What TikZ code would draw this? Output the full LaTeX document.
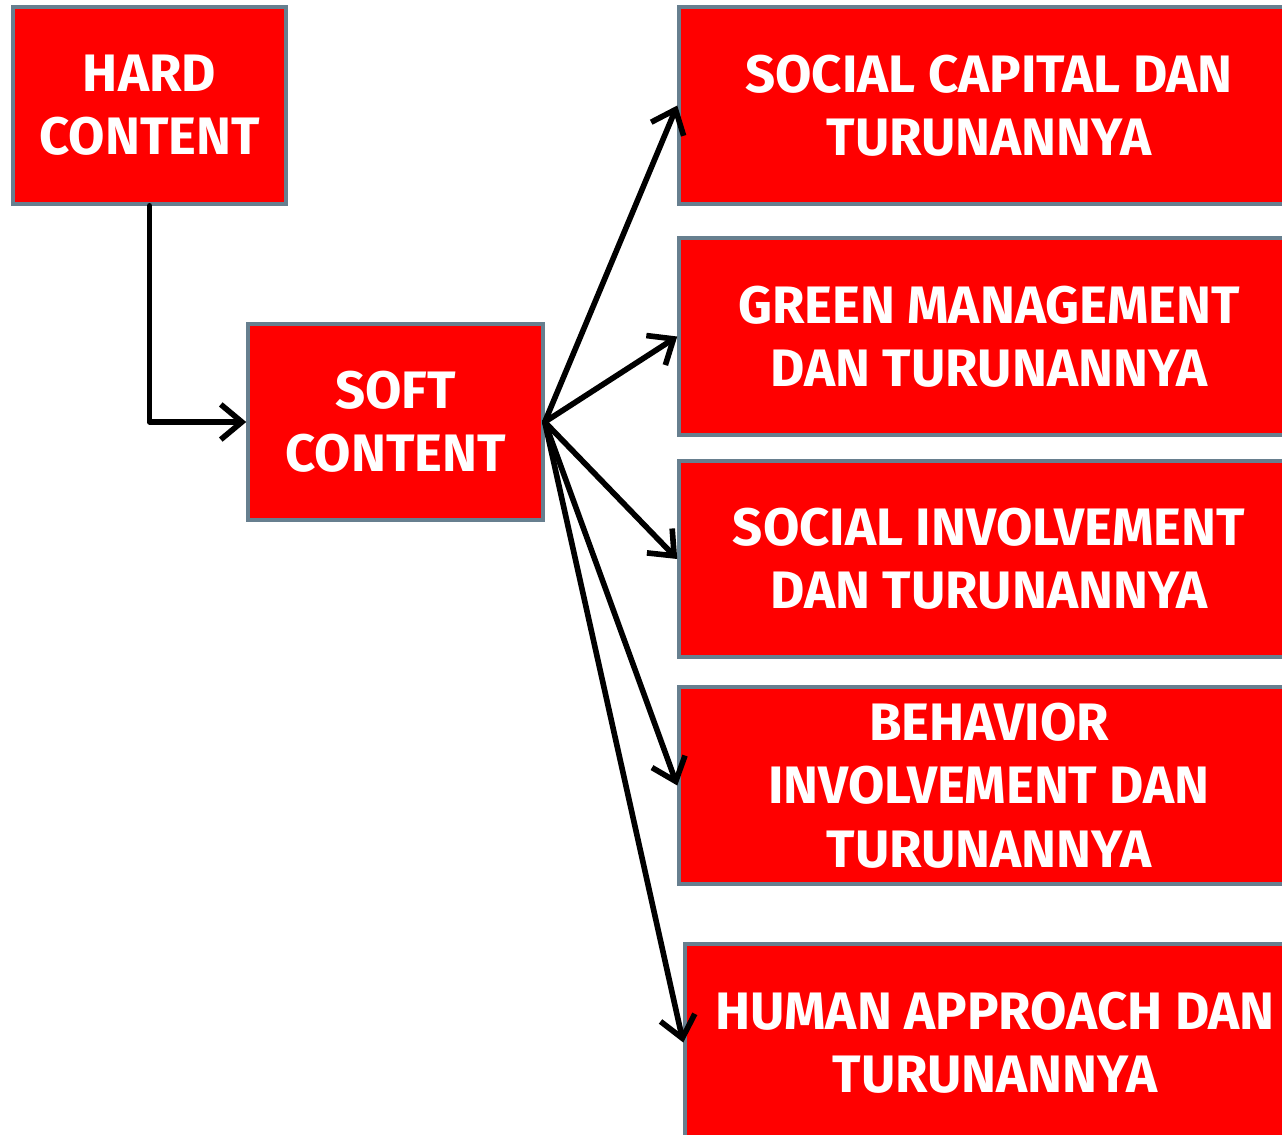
\documentclass[tikz,border=0pt]{standalone}
\usepackage{fontspec}
\setmainfont{Fira Sans}
\usetikzlibrary{arrows.meta}
\definecolor{boxred}{HTML}{FF0000}
\definecolor{boxedge}{HTML}{677F8F}
\tikzstyle{every node}=[font=\bfseries\fontsize{30}{36}\selectfont]
\tikzstyle{box}=[draw=boxedge,line width=2pt,fill=boxred,text=white,align=center,inner sep=0pt]
\tikzstyle{link}=[line width=3.2pt,line cap=round,line join=round,-{Straight Barb[length=12pt,width=20pt,line width=3.2pt]}]

\begin{document}
\begin{tikzpicture}[x=0.02cm,y=-0.02cm]
    % Frame of the page
    \useasboundingbox (0,0) rectangle (1282,1135);
    \clip (0,0) rectangle (1282,1135);

    % Left column
    \node[box,minimum width=273*0.02cm,minimum height=197*0.02cm] (hard) at (149.5,105.5) {HARD\\CONTENT};
    \node[box,minimum width=295*0.02cm,minimum height=196*0.02cm] (soft) at (395.5,422) {SOFT\\CONTENT};

    % Right column
    \node[box,minimum width=620*0.02cm,minimum height=197*0.02cm] (capital) at (989,105.5) {SOCIAL CAPITAL DAN\\TURUNANNYA};
    \node[box,minimum width=620*0.02cm,minimum height=197*0.02cm] (green) at (989,336.5) {GREEN MANAGEMENT\\DAN TURUNANNYA};
    \node[box,minimum width=620*0.02cm,minimum height=196*0.02cm] (social) at (989,559) {SOCIAL INVOLVEMENT\\DAN TURUNANNYA};
    \node[box,minimum width=620*0.02cm,minimum height=197*0.02cm] (behavior) at (989,785.5) {BEHAVIOR\\INVOLVEMENT DAN\\TURUNANNYA};
    \node[box,minimum width=620*0.02cm,minimum height=197*0.02cm] (human) at (995,1042.5) {HUMAN APPROACH DAN\\TURUNANNYA};

    % Connections
    \draw[link] (hard.south) |- (soft.west);
    \draw[link] (soft.east) -- (capital.west);
    \draw[link] (soft.east) -- (green.west);
    \draw[link] (soft.east) -- (social.west);
    \draw[link] (soft.east) -- (behavior.west);
    \draw[link] (soft.east) -- (human.west);
\end{tikzpicture}
\end{document}
